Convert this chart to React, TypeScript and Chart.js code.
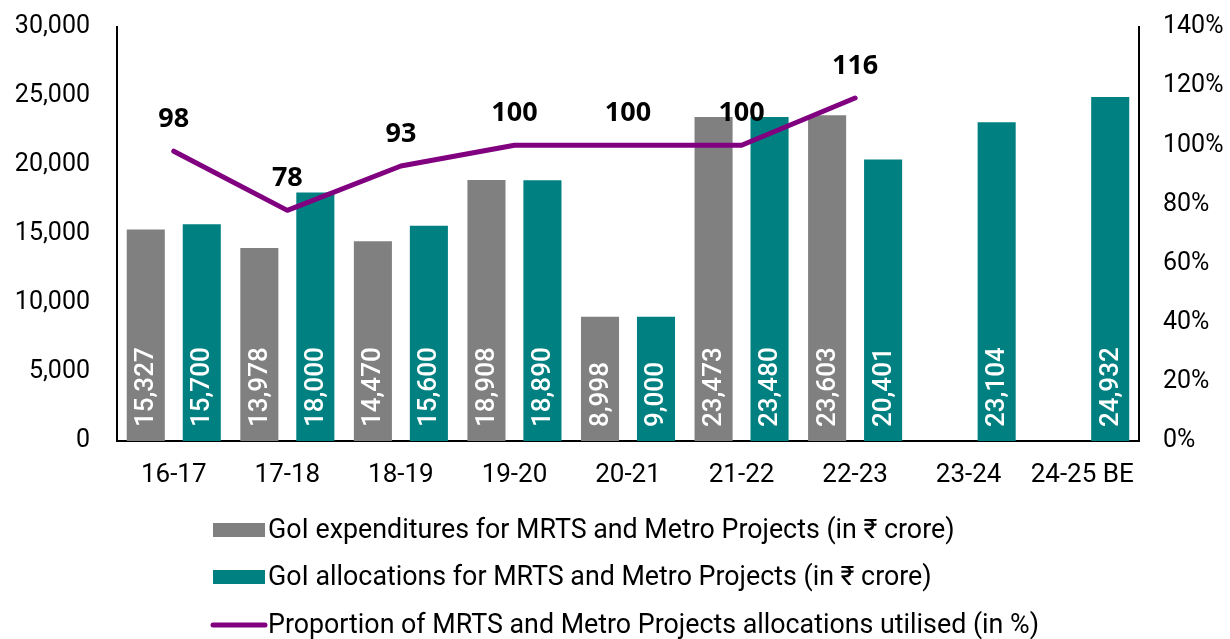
import React, { useEffect, useRef } from "react";
import { Chart, registerables } from "chart.js";

Chart.register(...registerables);

const categories = ["16-17", "17-18", "18-19", "19-20", "20-21", "21-22", "22-23", "23-24", "24-25 BE"];
const expenditures: (number | null)[] = [15327, 13978, 14470, 18908, 8998, 23473, 23603, null, null];
const allocations: number[] = [15700, 18000, 15600, 18890, 9000, 23480, 20401, 23104, 24932];
const utilisation: (number | null)[] = [98, 78, 93, 100, 100, 100, 116, null, null];

const labelExp = "GoI expenditures for MRTS and Metro Projects (in ₹ crore)";
const labelAlloc = "GoI allocations for MRTS and Metro Projects (in ₹ crore)";
const labelUtil = "Proportion of MRTS and Metro Projects allocations utilised (in %)";

const GREY = "#808080";
const TEAL = "#008080";
const PURPLE = "#800080";
const FONT = "Roboto, 'Noto Sans', sans-serif";

const fmt = (v: number) => v.toLocaleString("en-US");

const labelsPlugin = {
  id: "customLabels",
  afterDatasetsDraw(chart: any) {
    const ctx = chart.ctx;
    ctx.save();
    // bar value labels
    [0, 1].forEach((di) => {
      const meta = chart.getDatasetMeta(di);
      const data = chart.data.datasets[di].data;
      meta.data.forEach((el: any, i: number) => {
        const v = data[i];
        if (v === null || v === undefined) return;
        ctx.save();
        ctx.translate(el.x, el.base - 14);
        ctx.rotate(-Math.PI / 2);
        ctx.fillStyle = "#ffffff";
        ctx.font = `500 26px ${FONT}`;
        ctx.textAlign = "left";
        ctx.textBaseline = "middle";
        ctx.fillText(fmt(v), 0, 1);
        ctx.restore();
      });
    });
    // line labels
    const lmeta = chart.getDatasetMeta(2);
    const ldata = chart.data.datasets[2].data;
    lmeta.data.forEach((el: any, i: number) => {
      const v = ldata[i];
      if (v === null || v === undefined) return;
      ctx.fillStyle = "#000000";
      ctx.font = `bold 27px 'Noto Sans', 'Open Sans', sans-serif`;
      ctx.textAlign = "center";
      ctx.textBaseline = "middle";
      ctx.fillText(String(v), el.x, el.y - 32);
    });
    ctx.restore();
  },
  afterDraw(chart: any) {
    const ctx = chart.ctx;
    ctx.save();
    const ys = [530, 577, 625];
    chart.data.datasets.forEach((ds: any, i: number) => {
      const y = ys[i];
      if (ds.type === "line") {
        ctx.strokeStyle = ds.borderColor;
        ctx.lineWidth = 5;
        ctx.lineCap = "round";
        ctx.beginPath();
        ctx.moveTo(213, y);
        ctx.lineTo(265, y);
        ctx.stroke();
      } else {
        ctx.fillStyle = ds.backgroundColor;
        ctx.fillRect(213, y - 7, 52, 14);
      }
      ctx.fillStyle = "#000000";
      ctx.font = `26.8px ${FONT}`;
      ctx.textAlign = "left";
      ctx.textBaseline = "middle";
      ctx.fillText(ds.label, 268, y + 1);
    });
    ctx.restore();
  },
};

export default function App() {
  const ref = useRef<HTMLCanvasElement | null>(null);
  useEffect(() => {
    if (!ref.current) return;
    const chart = new Chart(ref.current, {
      type: "bar",
      data: {
        labels: categories,
        datasets: [
          {
            type: "bar",
            label: labelExp,
            data: expenditures,
            backgroundColor: GREY,
            yAxisID: "y",
            order: 1,
            barPercentage: 0.68,
            categoryPercentage: 0.986,
          },
          {
            type: "bar",
            label: labelAlloc,
            data: allocations,
            backgroundColor: TEAL,
            yAxisID: "y",
            order: 1,
            barPercentage: 0.68,
            categoryPercentage: 0.986,
          },
          {
            type: "line",
            label: labelUtil,
            data: utilisation,
            borderColor: PURPLE,
            backgroundColor: PURPLE,
            borderWidth: 5,
            borderCapStyle: "round",
            borderJoinStyle: "round",
            pointRadius: 0,
            tension: 0,
            yAxisID: "y1",
            order: 0,
          },
        ],
      } as any,
      options: {
        animation: false,
        responsive: false,
        maintainAspectRatio: false,
        layout: { padding: { top: 27, left: 0, right: 0, bottom: 0 } },
        plugins: {
          legend: { display: false },
          tooltip: { enabled: false },
        },
        scales: {
          x: {
            grid: { display: false, drawTicks: false },
            border: { display: true, color: "#000000", width: 2 },
            ticks: { color: "#000000", font: { family: FONT, size: 26 }, padding: 19, maxRotation: 0 },
            afterFit(scale: any) {
              scale.height = 198;
            },
          },
          y: {
            position: "left",
            min: 0,
            max: 30000,
            grid: { display: false, drawTicks: false },
            border: { display: true, color: "#000000", width: 2 },
            ticks: {
              stepSize: 5000,
              color: "#000000",
              font: { family: FONT, size: 25 },
              padding: 27,
              callback: (v: any) => fmt(Number(v)),
            },
            afterFit(scale: any) {
              scale.width = 117;
              scale.paddingTop = 0;
              scale.paddingBottom = 0;
            },
          },
          y1: {
            position: "right",
            min: 0,
            max: 140,
            grid: { display: false, drawTicks: false },
            border: { display: true, color: "#000000", width: 2 },
            ticks: {
              stepSize: 20,
              color: "#000000",
              font: { family: FONT, size: 25 },
              padding: 24,
              callback: (v: any) => `${v}%`,
            },
            afterFit(scale: any) {
              scale.width = 91;
              scale.paddingTop = 0;
              scale.paddingBottom = 0;
            },
          },
        },
      } as any,
      plugins: [labelsPlugin],
    });
    return () => chart.destroy();
  }, []);
  return (
    <div style={{ position: "fixed", left: 0, top: 0, width: 1230, height: 639, background: "#fff" }}>
      <canvas ref={ref} width={1230} height={639} style={{ width: 1230, height: 639 }} />
    </div>
  );
}
